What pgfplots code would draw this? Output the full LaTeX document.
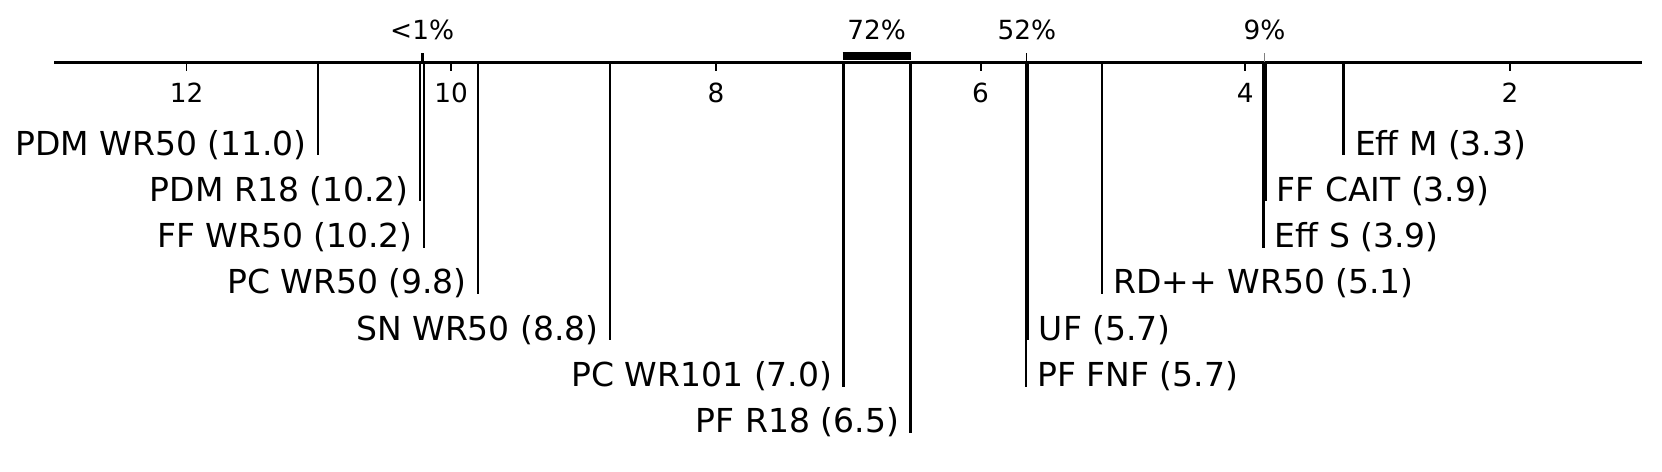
\documentclass[border=0pt]{standalone}
\usepackage{pgfplots}
\pgfplotsset{compat=1.18}
\usepackage{fontspec}
\setmainfont{DejaVu Sans}

\tikzset{
  small/.style={font=\fontsize{7.9}{9}\selectfont, inner sep=0pt},
  lleft/.style={anchor=base east, xshift=-3.2pt, inner sep=0pt, font=\fontsize{9.9}{11}\selectfont},
  lright/.style={anchor=base west, xshift=3.2pt, inner sep=0pt, font=\fontsize{9.9}{11}\selectfont},
}

\begin{document}
\begin{tikzpicture}
  \begin{axis}[
    scale only axis,
    width=498.6pt,
    height=141.6pt,
    xmin=0.851, xmax=13.41,
    ymin=-8.845, ymax=1.35,
    x dir=reverse,
    axis lines=none,
    clip=false
  ]
    % keep the whole axis area as the picture
    \path (rel axis cs:0,0) rectangle (rel axis cs:1,1);

    % rank axis
    \addplot[black, line width=0.75pt] coordinates {(13,0) (1,0)};
    \addplot[ycomb, black, line width=0.55pt] coordinates {(2,-0.19) (4,-0.19) (6,-0.19) (8,-0.19) (10,-0.19) (12,-0.19)};
    \node[small, anchor=base] at (axis cs:12,-0.87) {12};
    \node[small, anchor=base] at (axis cs:10,-0.87) {10};
    \node[small, anchor=base] at (axis cs:8,-0.87) {8};
    \node[small, anchor=base] at (axis cs:6,-0.87) {6};
    \node[small, anchor=base] at (axis cs:4,-0.87) {4};
    \node[small, anchor=base] at (axis cs:2,-0.87) {2};

    % cliques
    \addplot[ycomb, black, line width=0.9pt] coordinates {(10.22,0.21)};
    \addplot[ycomb, black, line width=0.35pt] coordinates {(5.651,0.21)};
    \addplot[ycomb, gray, line width=0.35pt] coordinates {(3.855,0.21)};
    \addplot[black, line width=2.4pt] coordinates {(7.043,0.136) (6.524,0.136)};
    \node[small, anchor=base] at (axis cs:10.22,0.497) {<1\%};
    \node[small, anchor=base] at (axis cs:6.785,0.497) {72\%};
    \node[small, anchor=base] at (axis cs:5.651,0.497) {52\%};
    \node[small, anchor=base] at (axis cs:3.855,0.497) {9\%};

    % methods, left side
    \addplot[ycomb, black, line width=0.75pt] coordinates {
      (11.006,-2) (10.235,-3) (10.205,-4) (9.796,-5) (8.80,-6) (7.035,-7) (6.531,-8)};
    \node[lleft] at (axis cs:11.006,-2) {PDM WR50 (11.0)};
    \node[lleft] at (axis cs:10.235,-3) {PDM R18 (10.2)};
    \node[lleft] at (axis cs:10.205,-4) {FF WR50 (10.2)};
    \node[lleft] at (axis cs:9.796,-5) {PC WR50 (9.8)};
    \node[lleft] at (axis cs:8.80,-6) {SN WR50 (8.8)};
    \node[lleft] at (axis cs:7.035,-7) {PC WR101 (7.0)};
    \node[lleft] at (axis cs:6.531,-8) {PF R18 (6.5)};

    % methods, right side
    \addplot[ycomb, black, line width=0.75pt] coordinates {
      (3.256,-2) (3.848,-3) (3.861,-4) (5.082,-5) (5.645,-6) (5.657,-7)};
    \node[lright] at (axis cs:3.256,-2) {Eff M (3.3)};
    \node[lright] at (axis cs:3.848,-3) {FF CAIT (3.9)};
    \node[lright] at (axis cs:3.861,-4) {Eff S (3.9)};
    \node[lright] at (axis cs:5.082,-5) {RD++ WR50 (5.1)};
    \node[lright] at (axis cs:5.645,-6) {UF (5.7)};
    \node[lright] at (axis cs:5.657,-7) {PF FNF (5.7)};
  \end{axis}
\end{tikzpicture}
\end{document}
